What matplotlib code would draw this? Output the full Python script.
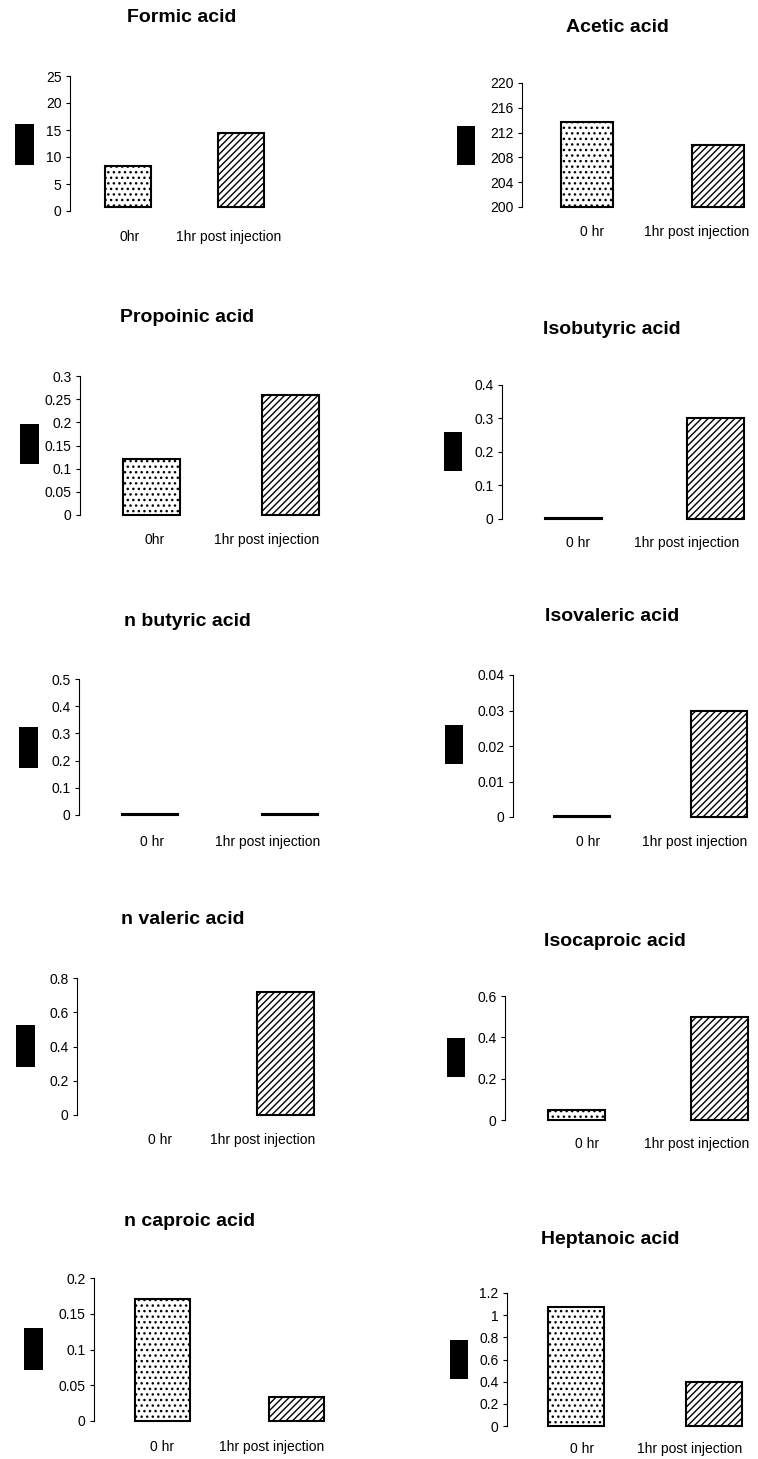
import numpy as np
import matplotlib
matplotlib.use("Agg")
import matplotlib.pyplot as plt
from matplotlib.patches import Rectangle

plt.rcParams["font.family"] = ["Liberation Sans", "DejaVu Sans"]
plt.rcParams["hatch.linewidth"] = 1.0

# data
acids = ["Formic acid", "Acetic acid", "Propoinic acid", "Isobutyric acid",
         "n butyric acid", "Isovaleric acid", "n valeric acid", "Isocaproic acid",
         "n caproic acid", "Heptanoic acid"]
zero_hr = [8.3, 213.7, 0.12, 0.003, 0.003, 0.0002, None, 0.05, 0.17, 1.07]
one_hr = [14.4, 210.0, 0.26, 0.30, 0.003, 0.03, 0.72, 0.50, 0.034, 0.40]
baselines = [0.8, 200, 0, 0, 0, 0, 0, 0, 0, 0]
y_min = [0, 200, 0, 0, 0, 0, 0, 0, 0, 0]
y_max = [25, 220, 0.3, 0.4, 0.5, 0.04, 0.8, 0.6, 0.2, 1.2]
y_step = [5, 4, 0.05, 0.1, 0.1, 0.01, 0.2, 0.2, 0.05, 0.2]
zero_labels = ["0hr", "0 hr", "0hr", "0 hr", "0 hr", "0 hr", "0 hr", "0 hr", "0 hr", "0 hr"]
one_label = "1hr post injection"

# layout in pixels: axis x, top tick y, zero tick y, bar0 centre, bar1 centre, bar width
W, H = 758, 1459
geom = [
    (70, 76, 211, 127.5, 240.5, 46),
    (522, 83, 207, 586.5, 717.5, 52),
    (80, 376, 515, 151.5, 290.0, 57),
    (502, 385, 519, 573.5, 715.5, 57),
    (79, 679, 815, 150.0, 289.5, 56),
    (513, 675, 817, 581.5, 718.5, 56),
    (77, 978, 1115, 148.0, 285.5, 57),
    (505, 996, 1120, 576.5, 719.0, 57),
    (94, 1278, 1421, 162.5, 296.0, 55),
    (507, 1293, 1426, 576.0, 714.0, 56),
]
title_pos = [(182, 18), (617, 28), (187, 317), (612, 330), (187, 622),
             (612, 617), (183, 919), (615, 942), (190, 1222), (610, 1239)]
label_pos = [(130, 229, 237), (592, 697, 232), (155, 267, 540), (578, 687, 543),
             (152, 268, 842), (588, 695, 842), (160, 263, 1140), (587, 697, 1144),
             (162, 272, 1447), (582, 690, 1449)]
# black boxes over the y-axis titles: x0, x1, y0, y1
boxes = [(15, 34, 124, 165), (457, 475, 126, 165), (20, 39, 424, 464),
         (444, 462, 432, 471), (19, 38, 727, 768), (445, 463, 725, 764),
         (16, 35, 1025, 1067), (447, 465, 1038, 1077), (24, 43, 1328, 1370),
         (450, 468, 1340, 1379)]

fig = plt.figure(figsize=(W / 100, H / 100), dpi=100)

for i, name in enumerate(acids):
    ax_x, y_top, y_bot, c0, c1, bw = geom[i]
    right = c1 + bw / 2 + 12
    sp = c1 - c0
    ax = fig.add_axes([ax_x / W, 1 - y_bot / H, (right - ax_x) / W, (y_bot - y_top) / H])
    ax.set_xlim((ax_x - c0) / sp, (right - c0) / sp)
    ax.set_ylim(y_min[i], y_max[i])

    base = baselines[i]
    width = bw / sp
    if zero_hr[i] is not None:
        ax.bar(0, zero_hr[i] - base, bottom=base, width=width, color="white",
               edgecolor="black", linewidth=1.5, hatch="...", clip_on=False)
    ax.bar(1, one_hr[i] - base, bottom=base, width=width, color="white",
           edgecolor="black", linewidth=1.5, hatch="/////", clip_on=False)

    n = int(round((y_max[i] - y_min[i]) / y_step[i]))
    ticks = np.linspace(y_min[i], y_max[i], n + 1)
    ax.set_yticks(ticks)
    ax.set_yticklabels([f"{round(t, 6):g}" for t in ticks])
    ax.tick_params(axis="y", direction="out", length=3, width=0.8, pad=3, labelsize=10)
    ax.set_xticks([])
    for side in ["top", "right", "bottom"]:
        ax.spines[side].set_visible(False)
    ax.spines["left"].set_linewidth(0.8)

    tx, ty = title_pos[i]
    fig.text(tx / W, 1 - ty / H, name, ha="center", va="center",
             fontsize=14, fontweight="bold")
    lx0, lx1, ly = label_pos[i]
    fig.text(lx0 / W, 1 - ly / H, zero_labels[i], ha="center", va="center", fontsize=10)
    fig.text(lx1 / W, 1 - ly / H, one_label, ha="center", va="center", fontsize=10)

    bx0, bx1, by0, by1 = boxes[i]
    fig.patches.append(Rectangle((bx0 / W, 1 - by1 / H), (bx1 - bx0) / W, (by1 - by0) / H,
                                 transform=fig.transFigure, facecolor="black",
                                 edgecolor="none"))

fig.savefig("out.png", dpi=100)
